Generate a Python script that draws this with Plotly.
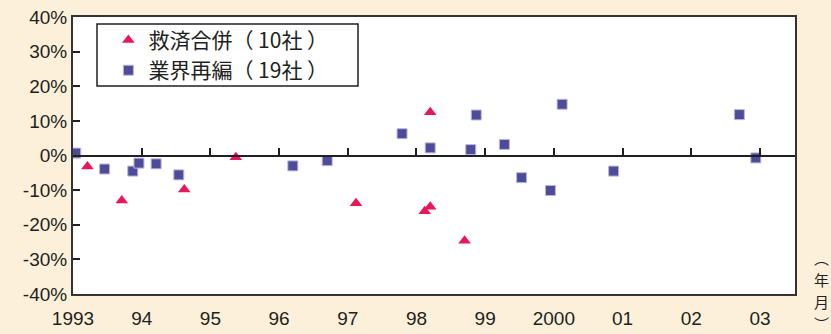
import plotly.graph_objects as go

# Data (x = year with fraction, y = %)
rescue_x = [1993.21, 1993.71, 1994.62, 1995.37, 1997.12, 1998.12, 1998.20, 1998.20, 1998.70]
rescue_y = [-3.2, -13.0, -9.8, -0.5, -13.8, -16.1, -14.8, 12.5, -24.6]

reorg_x = [1993.04, 1993.46, 1993.87, 1993.96, 1994.21, 1994.54, 1996.20, 1996.70, 1997.79,
           1998.20, 1998.79, 1998.87, 1999.28, 1999.53, 1999.95, 2000.12, 2000.87, 2002.70, 2002.94]
reorg_y = [0.7, -3.9, -4.5, -2.2, -2.4, -5.6, -3.0, -1.5, 6.3,
           2.2, 1.7, 11.7, 3.2, -6.4, -10.1, 14.8, -4.5, 11.8, -0.7]

x_tickvals = [1993, 1994, 1995, 1996, 1997, 1998, 1999, 2000, 2001, 2002, 2003]
x_ticktext = ["1993", "94", "95", "96", "97", "98", "99", "2000", "01", "02", "03"]
y_tickvals = [-40, -30, -20, -10, 0, 10, 20, 30, 40]
y_ticktext = ["-40%", "-30%", "-20%", "-10%", "0%", "10%", "20%", "30%", "40%"]

label_rescue = "救済合併（ 10社 ）"
label_reorg = "業界再編（ 19社 ）"
unit_chars = ["︵", "年", "月", "︶"]

FONT = "Liberation Sans, Arial, Noto Sans CJK JP"
TXT = "#231F20"

fig = go.Figure()
fig.add_trace(go.Scatter(
    x=rescue_x, y=rescue_y, mode="markers", name=label_rescue,
    marker=dict(symbol="triangle-up", size=11, color="#E8175A", line=dict(width=0)),
))
fig.add_trace(go.Scatter(
    x=reorg_x, y=reorg_y, mode="markers", name=label_reorg,
    marker=dict(symbol="square", size=10, color="#4E4B98", line=dict(width=1, color="#B9B7E0")),
))
# invisible trace to activate the zero-line axis with ticks
fig.add_trace(go.Scatter(x=[1993], y=[0], xaxis="x2", mode="markers",
                         marker=dict(opacity=0), showlegend=False, hoverinfo="skip"))

PW, PH = 722, 277
fig.update_layout(
    width=831, height=334,
    margin=dict(l=73, r=36, t=17, b=40, autoexpand=False),
    paper_bgcolor="#FCF0DA",
    plot_bgcolor="white",
    font=dict(family=FONT, size=19, color=TXT),
    showlegend=True,
    legend=dict(
        x=0.049, y=0.99, xanchor="left", yanchor="top",
        bgcolor="rgba(0,0,0,0)", borderwidth=0,
        font=dict(family="Noto Sans CJK JP, Liberation Sans", size=21, color=TXT),
        itemwidth=30, tracegroupgap=0,
    ),
    xaxis=dict(
        range=[1993, 2003.51], tickvals=x_tickvals, ticktext=x_ticktext,
        showgrid=False, zeroline=False, showline=True, linecolor="#333333", linewidth=2,
        mirror=True, ticks="", ticklabelstandoff=6,
    ),
    xaxis2=dict(
        range=[1993, 2003.51], overlaying="x", anchor="free", position=0.5,
        tickvals=x_tickvals[1:], showticklabels=False, ticks="inside", ticklen=7,
        tickwidth=2, tickcolor="#231F20", showline=True, linecolor="#231F20", linewidth=2,
        showgrid=False, zeroline=False,
    ),
    yaxis=dict(
        range=[-40, 40], tickvals=y_tickvals, ticktext=y_ticktext,
        showgrid=False, zeroline=False, showline=True, linecolor="#333333", linewidth=2,
        mirror=True, ticks="inside", ticklen=7, tickwidth=2, tickcolor="#231F20",
    ),
)

# legend box
fig.add_shape(type="rect", xref="paper", yref="paper",
              x0=(97 - 73) / PW, x1=(358 - 73) / PW,
              y0=1 - (86 - 17) / PH, y1=1 - (24 - 17) / PH,
              line=dict(color="#231F20", width=1.5), fillcolor="rgba(0,0,0,0)", layer="above")

# (年月) vertical unit label, one character per row
for ch, py in zip(unit_chars, [257, 279, 301, 323]):
    fig.add_annotation(xref="paper", yref="paper", x=(821 - 73) / PW, y=(294 - py) / PH,
                       text=ch, showarrow=False, xanchor="center", yanchor="middle",
                       font=dict(family="Noto Sans CJK JP", size=15, color=TXT))

fig.write_html("out.html")
